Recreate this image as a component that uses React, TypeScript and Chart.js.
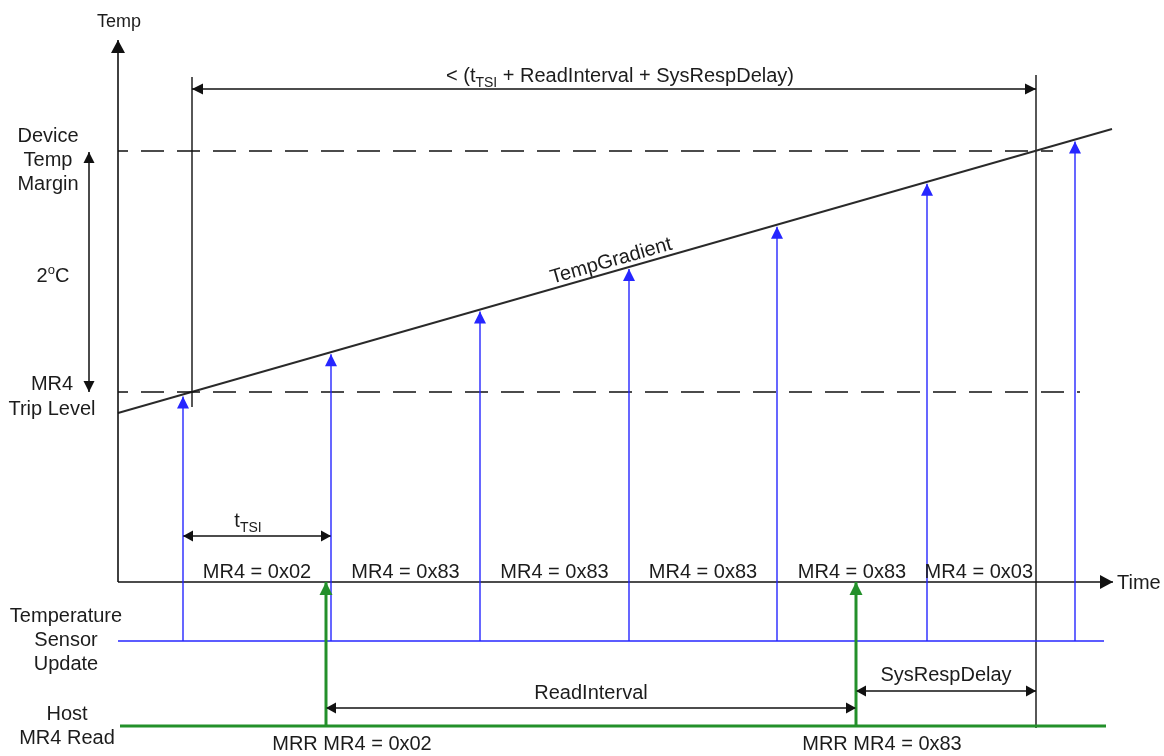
import { useEffect, useRef } from "react";
import { Chart, registerables } from "chart.js";

Chart.register(...registerables);

const CANVAS_W = 1164;
const CANVAS_H = 756;

// ---------------- diagram data ----------------
// time runs left -> right, vertical units run top -> down (diagram units)
const timeAxisStart = 118;
const timeAxisEnd = 1113;
const timeAxisLevel = 582;
const tempAxisTop = 40;

const sensorUpdateTimes = [183, 331, 480, 629, 777, 927, 1075];
const hostReadTimes = [326, 856];
const mr4Values = ["0x02", "0x83", "0x83", "0x83", "0x83", "0x03"];
const mrrValues = ["0x02", "0x83"];

const tempGradientTimes = [118, 1112];
const tempGradientLevels = [413, 129];
const tripLevel = 392;
const marginLevel = 151;
const tripTime = 192;
const deadlineTime = 1036;

const sensorLane = 641;
const hostLane = 726;

// ---------------- styles ----------------
const BLACK = "#111111";
const DARK = "#2a2a2a";
const BLUE = "#2626ff";
const GREEN = "#23902a";
const TEXT = "#1c1c1c";
const FONT = '"Liberation Sans", Arial, Helvetica, sans-serif';

const tempAt = (t: number) =>
  tempGradientLevels[0] +
  ((t - tempGradientTimes[0]) * (tempGradientLevels[1] - tempGradientLevels[0])) /
    (tempGradientTimes[1] - tempGradientTimes[0]);

type Seg = any;
function seg(
  x1: number,
  y1: number,
  x2: number,
  y2: number,
  color: string,
  width: number,
  extra: Record<string, any> = {}
): Seg {
  return {
    type: "scatter",
    data: [
      { x: x1, y: y1 },
      { x: x2, y: y2 },
    ],
    showLine: true,
    borderColor: color,
    backgroundColor: color,
    borderWidth: width,
    pointRadius: 0,
    pointHoverRadius: 0,
    fill: false,
    clip: false,
    tension: 0,
    ...extra,
  };
}

function buildDatasets(): Seg[] {
  const ds: Seg[] = [];
  // green host reads (top-most)
  hostReadTimes.forEach((t) =>
    ds.push(seg(t, hostLane, t, timeAxisLevel, GREEN, 3, { arrowEnd: true, headLen: 13, headW: 13 }))
  );
  // blue sensor update arrows
  sensorUpdateTimes.forEach((t) =>
    ds.push(seg(t, sensorLane, t, tempAt(t) + 2, BLUE, 1.4, { arrowEnd: true, headLen: 12, headW: 12 }))
  );
  // axes
  ds.push(seg(timeAxisStart, timeAxisLevel, timeAxisStart, tempAxisTop, BLACK, 1.6, { arrowEnd: true, headLen: 13, headW: 14 }));
  ds.push(seg(timeAxisStart, timeAxisLevel, timeAxisEnd, timeAxisLevel, BLACK, 1.6, { arrowEnd: true, headLen: 13, headW: 14 }));
  // lanes
  ds.push(seg(timeAxisStart, sensorLane, 1104, sensorLane, BLUE, 1.4));
  ds.push(seg(120, hostLane, 1106, hostLane, GREEN, 3));
  // dashed levels
  ds.push(seg(timeAxisStart, marginLevel, 1053, marginLevel, BLACK, 1.5, { borderDash: [23, 13], borderDashOffset: 13 }));
  ds.push(seg(timeAxisStart, tripLevel, 1080, tripLevel, BLACK, 1.5, { borderDash: [23, 13], borderDashOffset: 13 }));
  // temperature gradient
  ds.push(seg(tempGradientTimes[0], tempGradientLevels[0], tempGradientTimes[1], tempGradientLevels[1], DARK, 2));
  // reference verticals
  ds.push(seg(tripTime, 77, tripTime, tripLevel + 15, BLACK, 1.4));
  ds.push(seg(deadlineTime, 75, deadlineTime, hostLane + 2, BLACK, 1.4));
  // dimension arrows
  ds.push(seg(tripTime, 89, deadlineTime, 89, BLACK, 1.5, { arrowEnd: true, arrowStart: true, headLen: 11, headW: 11 }));
  ds.push(seg(89, marginLevel + 1, 89, tripLevel, BLACK, 1.5, { arrowEnd: true, arrowStart: true, headLen: 11, headW: 11 }));
  ds.push(seg(sensorUpdateTimes[0], 536, sensorUpdateTimes[1], 536, BLACK, 1.5, { arrowEnd: true, arrowStart: true, headLen: 10, headW: 11 }));
  ds.push(seg(hostReadTimes[0], 708, hostReadTimes[1], 708, BLACK, 1.5, { arrowEnd: true, arrowStart: true, headLen: 10, headW: 11 }));
  ds.push(seg(hostReadTimes[1], 691, deadlineTime, 691, BLACK, 1.5, { arrowEnd: true, arrowStart: true, headLen: 10, headW: 11 }));
  return ds;
}

type Part = [string, number, number]; // text, size, baseline shift

function drawRich(ctx: CanvasRenderingContext2D, parts: Part[], x: number, y: number, align: "center" | "left" = "center") {
  let total = 0;
  const widths = parts.map(([t, s]) => {
    ctx.font = `${s}px ${FONT}`;
    const w = ctx.measureText(t).width;
    total += w;
    return w;
  });
  let cx = align === "center" ? x - total / 2 : x;
  ctx.textAlign = "left";
  ctx.textBaseline = "alphabetic";
  parts.forEach(([t, s, dy], i) => {
    ctx.font = `${s}px ${FONT}`;
    ctx.fillText(t, cx, y + dy);
    cx += widths[i];
  });
}

function drawHead(ctx: CanvasRenderingContext2D, fx: number, fy: number, tx: number, ty: number, len: number, w: number, color: string) {
  const dx = tx - fx;
  const dy = ty - fy;
  const d = Math.hypot(dx, dy) || 1;
  const ux = dx / d;
  const uy = dy / d;
  const bx = tx - ux * len;
  const by = ty - uy * len;
  const nx = -uy;
  const ny = ux;
  ctx.beginPath();
  ctx.moveTo(tx, ty);
  ctx.lineTo(bx + (nx * w) / 2, by + (ny * w) / 2);
  ctx.lineTo(bx - (nx * w) / 2, by - (ny * w) / 2);
  ctx.closePath();
  ctx.fillStyle = color;
  ctx.fill();
}

const diagramPlugin = {
  id: "diagramDecor",
  afterDatasetsDraw(chart: any) {
    const ctx: CanvasRenderingContext2D = chart.ctx;
    const xs = chart.scales.x;
    const ys = chart.scales.y;
    const px = (v: number) => xs.getPixelForValue(v);
    const py = (v: number) => ys.getPixelForValue(v);
    ctx.save();

    // arrow heads
    chart.data.datasets.forEach((ds: any) => {
      const [a, b] = ds.data;
      if (ds.arrowEnd) drawHead(ctx, px(a.x), py(a.y), px(b.x), py(b.y), ds.headLen, ds.headW, ds.borderColor);
      if (ds.arrowStart) drawHead(ctx, px(b.x), py(b.y), px(a.x), py(a.y), ds.headLen, ds.headW, ds.borderColor);
    });

    ctx.fillStyle = TEXT;
    const lines = (arr: string[], x: number, y0: number, lh: number, size = 20) =>
      arr.forEach((t, i) => drawRich(ctx, [[t, size, 0]], px(x), py(y0 + i * lh)));

    // axis titles
    lines(["Temp"], timeAxisStart + 1, 27, 0, 18);
    drawRich(ctx, [["Time", 20, 0]], px(timeAxisEnd + 4), py(timeAxisLevel + 7), "left");

    // left labels
    lines(["Device", "Temp", "Margin"], 48, marginLevel - 9, 24);
    drawRich(ctx, [["2", 20, 0], ["o", 13, -8], ["C", 20, 0]], px(53), py(282));
    lines(["MR4"], 52, tripLevel - 2, 0);
    lines(["Trip Level"], 52, tripLevel + 23, 0);
    lines(["Temperature", "Sensor", "Update"], 66, sensorLane - 19, 24);
    lines(["Host", "MR4 Read"], 67, hostLane - 6, 24);

    // MR4 register values between sensor updates
    ctx.font = `20px ${FONT}`;
    mr4Values.forEach((v, i) => {
      const txt = `MR4 = ${v}`;
      const w = ctx.measureText(txt).width;
      let mid = (sensorUpdateTimes[i] + sensorUpdateTimes[i + 1]) / 2;
      const maxMid = xs.getValueForPixel(px(deadlineTime) - 3 - w / 2);
      if (mid > maxMid) mid = maxMid;
      drawRich(ctx, [[txt, 20, 0]], px(mid), py(timeAxisLevel - 4));
    });

    // MRR values under host reads
    mrrValues.forEach((v, i) => {
      drawRich(ctx, [[`MRR MR4 = ${v}`, 20, 0]], px(hostReadTimes[i] + 26), py(750));
    });

    // dimension labels
    drawRich(ctx, [["< (t", 20, 0], ["TSI", 14, 5], [" + ReadInterval + SysRespDelay)", 20, 0]], px(620), py(82));
    drawRich(ctx, [["t", 20, 0], ["TSI", 14, 5]], px((sensorUpdateTimes[0] + sensorUpdateTimes[1]) / 2 - 9), py(527));
    drawRich(ctx, [["ReadInterval", 20, 0]], px((hostReadTimes[0] + hostReadTimes[1]) / 2), py(699));
    drawRich(ctx, [["SysRespDelay", 20, 0]], px((hostReadTimes[1] + deadlineTime) / 2), py(681));

    // gradient label, along the line
    const gx = 614;
    const ang = Math.atan2(
      py(tempGradientLevels[1]) - py(tempGradientLevels[0]),
      px(tempGradientTimes[1]) - px(tempGradientTimes[0])
    );
    ctx.save();
    ctx.translate(px(gx), py(tempAt(gx)));
    ctx.rotate(ang);
    drawRich(ctx, [["TempGradient", 20, 0]], 0, -5);
    ctx.restore();

    ctx.restore();
  },
};

export default function App() {
  const canvasRef = useRef<HTMLCanvasElement | null>(null);

  useEffect(() => {
    const canvas = canvasRef.current;
    if (!canvas) return;
    const chart = new Chart(canvas, {
      type: "scatter",
      data: { datasets: buildDatasets() },
      options: {
        responsive: false,
        maintainAspectRatio: false,
        animation: false,
        devicePixelRatio: 1,
        layout: { padding: 0 },
        events: [],
        plugins: {
          legend: { display: false },
          tooltip: { enabled: false },
          title: { display: false },
        },
        scales: {
          x: { type: "linear", display: false, min: 0, max: CANVAS_W },
          y: { type: "linear", display: false, min: 0, max: CANVAS_H, reverse: true },
        },
      },
      plugins: [diagramPlugin],
    } as any);
    return () => chart.destroy();
  }, []);

  return (
    <div style={{ position: "absolute", left: 0, top: 0, width: CANVAS_W, height: CANVAS_H, background: "#fff" }}>
      <canvas ref={canvasRef} width={CANVAS_W} height={CANVAS_H} style={{ display: "block", width: CANVAS_W, height: CANVAS_H }} />
    </div>
  );
}
